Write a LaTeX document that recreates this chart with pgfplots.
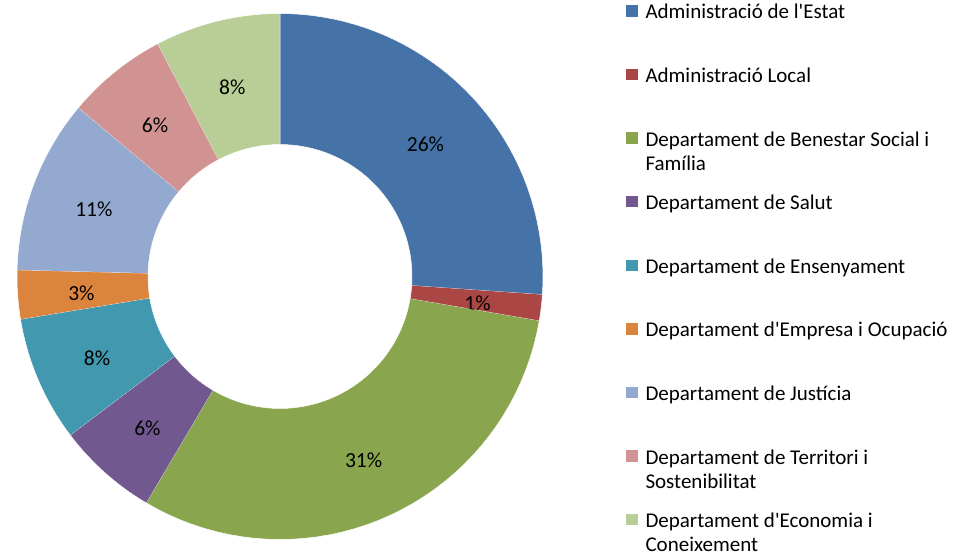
\documentclass[border=0pt]{standalone}
\usepackage{fontspec}
\setmainfont{Carlito}
\usepackage{pgfplots}
\pgfplotsset{compat=1.18}
\definecolor{cA}{HTML}{4572A7}
\definecolor{cB}{HTML}{AA4643}
\definecolor{cC}{HTML}{89A54E}
\definecolor{cD}{HTML}{71588F}
\definecolor{cE}{HTML}{4198AF}
\definecolor{cF}{HTML}{DB843D}
\definecolor{cG}{HTML}{93A9CF}
\definecolor{cH}{HTML}{D19392}
\definecolor{cI}{HTML}{B9CD96}
\newcommand\leg{\fontsize{21}{24}\selectfont}
\newcommand\lab{\fontsize{21.5}{24}\selectfont}
\newcommand\LE[1]{\raisebox{-8pt}[0pt][0pt]{#1}}
\newcommand\LT[2]{\raisebox{-8pt}[0pt][0pt]{\parbox[t]{310pt}{\raggedright #1\\#2}}}
\def\cum{0}
% #1 colour, #2 value (percent of total), #3 label, #4 legend text
\newcommand{\sector}[4]{%
  \pgfmathsetmacro{\sa}{90-3.6*\cum}%
  \pgfmathsetmacro{\sb}{90-3.6*(\cum+#2)}%
  \pgfmathsetmacro{\sm}{(\sa+\sb)/2}%
  \pgfmathsetmacro{\lx}{280+199*cos(\sm)}%
  \pgfmathsetmacro{\ly}{275+199*sin(\sm)}%
  \addplot[fill=#1, draw=white, line width=0.5pt, domain=0:3, samples=121]
    ({280+(263-131*min(max(x-1,0),1))*cos(\sa+(\sb-\sa)*(min(x,1)-max(x-2,0)))},
     {278.5+(263-131*min(max(x-1,0),1))*sin(\sa+(\sb-\sa)*(min(x,1)-max(x-2,0)))});
  \addlegendentry{#4}
  \edef\temp{\noexpand\node[font=\noexpand\lab, inner sep=0pt] at (axis cs:\lx,\ly) {#3};}\temp
  \pgfmathsetmacro{\newcum}{\cum+#2}\global\let\cum\newcum
}
\begin{document}
\begin{tikzpicture}
\useasboundingbox (0,0) rectangle (954pt,555pt);
\begin{axis}[
  at={(0,0)}, anchor=south west, scale only axis,
  width=954pt, height=555pt,
  xmin=0, xmax=954, ymin=0, ymax=555,
  hide axis, clip=false,
  legend image code/.code={\path[#1, draw=none] (0pt,-5.75pt) rectangle (11.5pt,5.75pt);},
  legend cell align=left,
  legend style={at={(0.6562,0.9908)}, anchor=north west, draw=none, fill=none,
    inner sep=0pt, outer sep=0pt, row sep=52.1pt, column sep=8pt, font=\leg,
    nodes={inner sep=0pt, text depth=0pt}},
]
\sector{cA}{26.1}{26\%}{\LE{Administració de l\textquotesingle Estat}}
\sector{cB}{1.6}{1\%}{\LE{Administració Local}}
\sector{cC}{30.8}{31\%}{\LT{Departament de Benestar Social i}{Família}}
\sector{cD}{6.2}{6\%}{\LE{Departament de Salut}}
\sector{cE}{7.7}{8\%}{\LE{Departament de Ensenyament}}
\sector{cF}{3.0}{3\%}{\LE{Departament d\textquotesingle Empresa i Ocupació}}
\sector{cG}{10.7}{11\%}{\LE{Departament de Justícia}}
\sector{cH}{6.2}{6\%}{\LT{Departament de Territori i}{Sostenibilitat}}
\sector{cI}{7.7}{8\%}{\LT{Departament d\textquotesingle Economia i}{Coneixement}}
\end{axis}
\end{tikzpicture}
\end{document}
